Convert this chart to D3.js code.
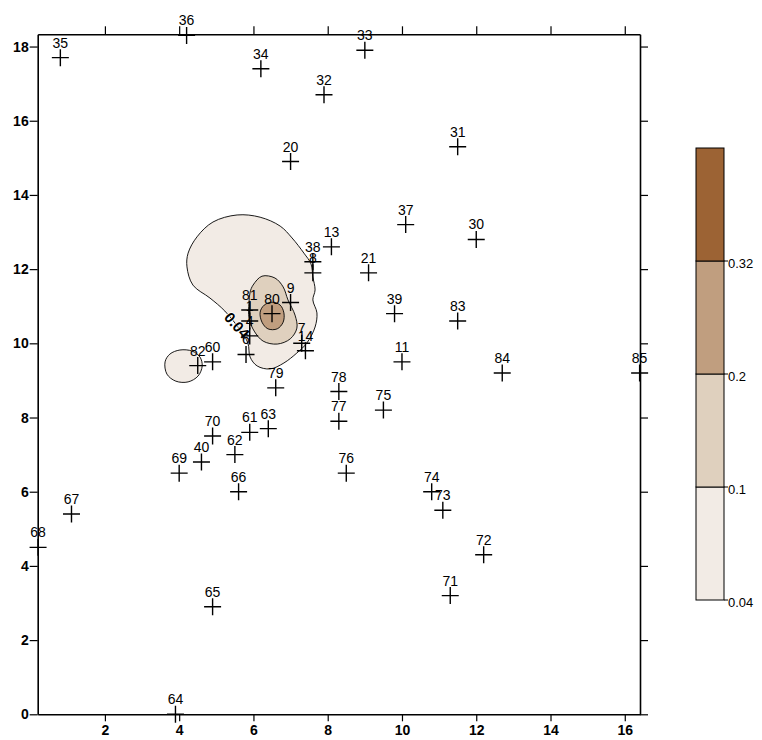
<!DOCTYPE html>
<html>
<head>
<meta charset="utf-8">
<script src="https://cdn.jsdelivr.net/npm/d3@7/dist/d3.min.js"></script>
<style>
  body { margin: 0; background: #fff; }
  svg { display: block; }
  text { font-family: "Liberation Sans", Arial, sans-serif; fill: #000; }
</style>
</head>
<body>
<svg id="chart" width="762" height="740"></svg>
<script>
// Axis ticks
const xTicks = [2, 4, 6, 8, 10, 12, 14, 16];
const yTicks = [0, 2, 4, 6, 8, 10, 12, 14, 16, 18];

// Sample locations
const pointIds = ["35","36","34","32","33","20","31","37","30","13","38","8","21","39","83",
  "9","80","81","1","4","6","7","14","11","78","77","75","84","85","79","82","60",
  "63","61","70","62","40","69","66","76","67","68","74","73","72","71","65","64"];
const pointX = [0.8, 4.2, 6.2, 7.9, 9.0, 7.0, 11.5, 10.1, 12.0, 8.1, 7.6, 7.6, 9.1, 9.8, 11.5,
  7.0, 6.5, 5.9, 5.9, 5.9, 5.8, 7.3, 7.4, 10.0, 8.3, 8.3, 9.5, 12.7, 16.4, 6.6, 4.5, 4.9,
  6.4, 5.9, 4.9, 5.5, 4.6, 4.0, 5.6, 8.5, 1.1, 0.2, 10.8, 11.1, 12.2, 11.3, 4.9, 3.9];
const pointY = [17.7, 18.3, 17.4, 16.7, 17.9, 14.9, 15.3, 13.2, 12.8, 12.6, 12.2, 11.9, 11.9, 10.8, 10.6,
  11.1, 10.8, 10.9, 10.6, 10.2, 9.7, 10.0, 9.8, 9.5, 8.7, 7.9, 8.2, 9.2, 9.2, 8.8, 9.4, 9.5,
  7.7, 7.6, 7.5, 7.0, 6.8, 6.5, 6.0, 6.5, 5.4, 4.5, 6.0, 5.5, 4.3, 3.2, 2.9, 0.0];

// Contour levels and their fills
const levels = [0.04, 0.1, 0.2, 0.32];
const levelColors = ["#F2EBE5", "#DFD0BE", "#C09E7F", "#9C6334"];

// Contour rings (x, y in map units)
const ring004Main = [[5.56,13.46],[6.18,13.40],[6.72,13.16],[7.04,12.84],[7.36,12.43],[7.55,12.14],
  [7.60,11.79],[7.66,11.44],[7.60,11.17],[7.71,10.82],[7.66,10.44],[7.44,10.01],[7.17,9.74],
  [6.82,9.47],[6.45,9.31],[6.10,9.39],[5.91,9.63],[5.85,10.01],[5.64,10.36],[5.23,10.87],
  [4.83,11.22],[4.37,11.57],[4.21,12.06],[4.24,12.43],[4.48,12.87],[4.91,13.27]];
const ring004Small = [[3.62,9.50],[3.75,9.71],[4.02,9.82],[4.35,9.79],[4.56,9.63],[4.62,9.39],
  [4.51,9.12],[4.24,8.96],[3.91,8.98],[3.67,9.17]];
const ring010 = [[5.99,11.57],[6.23,11.81],[6.58,11.76],[6.80,11.52],[6.93,11.17],[7.12,10.76],
  [7.17,10.41],[6.99,10.12],[6.64,9.98],[6.26,10.06],[6.02,10.33],[5.88,10.68],[5.88,11.09],[5.91,11.38]];
const ring020 = [[6.18,10.84],[6.29,11.03],[6.50,11.11],[6.72,11.03],[6.82,10.82],[6.80,10.57],
  [6.64,10.39],[6.39,10.39],[6.23,10.57]];
const contourRings = [
  { level: 0.04, ring: ring004Main },
  { level: 0.04, ring: ring004Small },
  { level: 0.1, ring: ring010 },
  { level: 0.2, ring: ring020 }
];
const contourLabel = { text: "0.04", x: 5.56, y: 10.49, angle: 48 };

const svg = d3.select("#chart");
const plot = { left: 37.7, right: 640, top: 34.3, bottom: 714.3 };

const x = d3.scaleLinear().domain([0.19, 16.41]).range([plot.left, plot.right]);
const y = d3.scaleLinear().domain([0, 18.33]).range([plot.bottom, plot.top]);
const fillFor = d3.scaleOrdinal().domain(levels).range(levelColors);

// Filled contours
const ringPath = d3.line()
  .x(d => x(d[0])).y(d => y(d[1]))
  .curve(d3.curveCatmullRomClosed.alpha(0.5));

svg.append("g").selectAll("path")
  .data(contourRings)
  .join("path")
  .attr("d", d => ringPath(d.ring))
  .attr("fill", d => fillFor(d.level))
  .attr("stroke", "#000")
  .attr("stroke-width", 0.9);

// Axes on all four sides
const fmt = d3.format("d");
const axisFont = g => g.selectAll("text")
  .style("font-size", "14px").style("font-weight", "bold")
  .style("font-family", "'Liberation Sans', Arial, sans-serif").attr("fill", "#000");
const axisLine = g => {
  g.select(".domain").attr("stroke", "#000").attr("stroke-width", 1.6);
  g.selectAll(".tick line").attr("stroke", "#000").attr("stroke-width", 1.2);
};

svg.append("g").attr("transform", `translate(0,${plot.bottom})`)
  .call(d3.axisBottom(x).tickValues(xTicks).tickFormat(fmt).tickSize(7).tickSizeOuter(0).tickPadding(4))
  .call(axisLine).call(axisFont);
svg.append("g").attr("transform", `translate(${plot.left},0)`)
  .call(d3.axisLeft(y).tickValues(yTicks).tickFormat(fmt).tickSize(8).tickSizeOuter(0).tickPadding(1))
  .call(axisLine).call(axisFont);
svg.append("g").attr("transform", `translate(0,${plot.top})`)
  .call(d3.axisTop(x).tickValues(xTicks).tickFormat("").tickSize(8).tickSizeOuter(0))
  .call(axisLine);
svg.append("g").attr("transform", `translate(${plot.right},0)`)
  .call(d3.axisRight(y).tickValues(yTicks).tickFormat("").tickSize(8).tickSizeOuter(0))
  .call(axisLine);

// Contour value label
svg.append("text")
  .attr("transform", `translate(${x(contourLabel.x)},${y(contourLabel.y)}) rotate(${contourLabel.angle})`)
  .attr("text-anchor", "middle").attr("dominant-baseline", "central")
  .style("font-size", "15px").style("font-weight", "bold")
  .style("paint-order", "stroke").attr("stroke", "#fff").attr("stroke-width", 1.5)
  .text(contourLabel.text);

// Sample crosses and their labels
const pts = pointIds.map((id, i) => ({ id, x: pointX[i], y: pointY[i] }));
const half = 8.5;
const marks = svg.append("g");
marks.selectAll("path.cross")
  .data(pts).join("path").attr("class", "cross")
  .attr("d", d => {
    const cx = x(d.x), cy = y(d.y);
    return `M${cx - half},${cy}H${cx + half}M${cx},${cy - half}V${cy + half}`;
  })
  .attr("stroke", "#000").attr("stroke-width", 1.4).attr("fill", "none");
marks.selectAll("text")
  .data(pts).join("text")
  .attr("x", d => x(d.x)).attr("y", d => y(d.y) - 10)
  .attr("text-anchor", "middle")
  .style("font-size", "14px")
  .text(d => d.id);

// Colour legend
const legend = { left: 696, width: 28, top: 148, bottom: 600 };
const legendBands = levels.map((lv, i) => ({ lv, color: levelColors[i], i }));
const ly = d3.scaleLinear().domain([0, levels.length]).range([legend.bottom, legend.top]);
const lg = svg.append("g");
lg.selectAll("rect")
  .data(legendBands).join("rect")
  .attr("x", legend.left).attr("width", legend.width)
  .attr("y", d => ly(d.i + 1)).attr("height", d => ly(d.i) - ly(d.i + 1))
  .attr("fill", d => d.color)
  .attr("stroke", "#000").attr("stroke-width", 1);
lg.selectAll("line")
  .data(legendBands).join("line")
  .attr("x1", legend.left + legend.width).attr("x2", legend.left + legend.width + 4)
  .attr("y1", d => ly(d.i)).attr("y2", d => ly(d.i))
  .attr("stroke", "#000").attr("stroke-width", 1);
lg.selectAll("text")
  .data(legendBands).join("text")
  .attr("x", legend.left + legend.width + 4)
  .attr("y", d => ly(d.i) + 2)
  .attr("dominant-baseline", "central")
  .style("font-size", "13px")
  .text(d => d.lv);
</script>
</body>
</html>
